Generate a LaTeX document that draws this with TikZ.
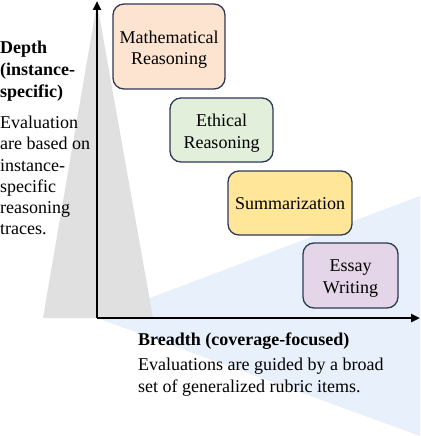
\documentclass[tikz,border=0pt]{standalone}
\usepackage{fontspec}
\setmainfont{Liberation Serif}
\usetikzlibrary{arrows.meta}
\definecolor{peach}{HTML}{FCE4D0}
\definecolor{mint}{HTML}{E2EFDA}
\definecolor{butter}{HTML}{FFE699}
\definecolor{lilac}{HTML}{E4D5E8}
\definecolor{navy}{HTML}{2E3B57}
\definecolor{shadegray}{HTML}{E0E0E0}
\definecolor{shadeblue}{HTML}{E8F0FB}
\tikzset{
  txt/.style={font=\fontsize{18}{21.5}\selectfont, inner sep=0pt, anchor=base west},
  btxt/.style={txt, font=\fontsize{18}{21.5}\selectfont\bfseries},
  task/.style={draw=navy, line width=1.3pt, rounded corners=11pt, inner sep=0pt},
  tasktext/.style={align=center, font=\fontsize{18}{21.5}\selectfont, inner sep=0pt},
  axis/.style={line width=2.4pt, -{Triangle[length=9pt,width=8pt]}}
}
\begin{document}
\begin{tikzpicture}[x=1pt,y=-1pt]
\useasboundingbox[fill=white] (0,0) rectangle (420,436);
% shaded wedges
\fill[shadeblue] (97,318) -- (420,196) -- (420,436) -- cycle;
\fill[shadegray] (97,3) -- (153,318) -- (43,318) -- cycle;
% axes
\coordinate (o) at (97,318);
\coordinate (ytop) at (97,1);
\coordinate (xend) at (420,318);
\draw[axis] (o) -- (ytop);
\draw[axis] (o) -- (xend);
% task boxes
\node[task, fill=peach, minimum width=112pt, minimum height=85pt] (math) at (169,46.5) {};
\node[tasktext] (mathT) at ([yshift=-3pt]math.center) {Mathematical\\Reasoning};
\node[task, fill=mint, minimum width=103pt, minimum height=64pt] (eth) at (221.5,130) {};
\node[tasktext] (ethT) at ([yshift=-3pt]eth.center) {Ethical\\Reasoning};
\node[task, fill=butter, minimum width=124pt, minimum height=64pt] (summ) at (290,203) {};
\node[tasktext] (summT) at ([yshift=-1pt]summ.center) {Summarization};
\node[task, fill=lilac, minimum width=95pt, minimum height=65pt] (essay) at (350.5,275.5) {};
\node[tasktext] (essayT) at ([yshift=-3pt]essay.center) {Essay\\Writing};
% left text
\node[btxt] (d1) at (0,53) {Depth};
\node[btxt] (d2) at (0,75) {(instance-};
\node[btxt] (d3) at (0,97) {specific)};
\node[txt] (l1) at (0,128) {Evaluation};
\node[txt] (l2) at (0,149.5) {are based on};
\node[txt] (l3) at (0,171) {instance-};
\node[txt] (l4) at (0,192) {specific};
\node[txt] (l5) at (0,213) {reasoning};
\node[txt] (l6) at (0,234) {traces.};
% bottom text
\node[btxt] (b1) at (138,345) {Breadth (coverage-focused)};
\node[txt] (b2) at (138,370) {Evaluations are guided by a broad};
\node[txt] (b3) at (138,392) {set of generalized rubric items.};
\end{tikzpicture}
\end{document}
